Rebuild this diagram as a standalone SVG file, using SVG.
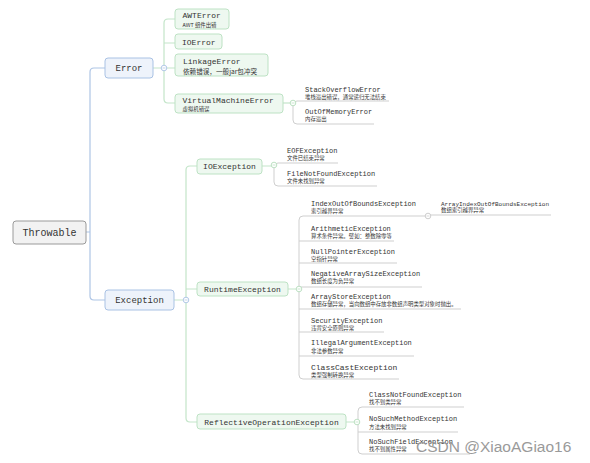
<svg xmlns="http://www.w3.org/2000/svg" width="590" height="463" viewBox="0 0 590 463">
<style>
.bl{fill:none;stroke:#aec5e5;stroke-width:1.2}
.gr{fill:none;stroke:#c3e5c9;stroke-width:1.2}
.ul{fill:none;stroke:#cfcfcf;stroke-width:1}
.root{fill:#f2f2f2;stroke:#9a9a9a;stroke-width:1}
.bn{fill:#eef3fb;stroke:#a9c2e4;stroke-width:1}
.gn{fill:#eef8f0;stroke:#bde2c4;stroke-width:1}
.t{font-family:"Liberation Mono","DejaVu Sans Mono",monospace;fill:#333}
.s{font-family:"Noto Sans CJK SC","Noto Sans",sans-serif;fill:#333;font-size:5.4px}
.c{fill:#fff;stroke-width:0.9}
.wm{font-family:"Liberation Sans",Arial,sans-serif;font-size:15.5px;fill:#9a9a9a}
</style>
<rect width="590" height="463" fill="#fff"/>
<g id="connectors">
  <path class="bl" d="M86,232 H90 M105,68 H94 Q90,68 90,72 V296 Q90,300 94,300 H105"/>
  <path class="gr" d="M153,68 H164 M175,19 H168 Q164,19 164,23 V99 Q164,103 168,103 H175 M164,43 H175 M164,68 H175"/>
  <path class="gr" d="M283,103 H293"/>
  <path class="ul" d="M389,101 H297 Q293,101 293,105 V120 Q293,124 297,124 H374"/>
  <path class="gr" d="M174,300 H186 M197,166 H190 Q186,166 186,170 V418 Q186,422 190,422 H197 M186,289 H197"/>
  <path class="gr" d="M262,166 H274 M288,289 H299 M346,422 H357"/>
  <path class="ul" d="M338,163 H278 Q274,163 274,167 V182 Q274,186 278,186 H377"/>
  <path class="ul" d="M428,216 H303 Q299,216 299,220 V375 Q299,379 303,379 H399 M299,241 H394 M299,263 H397 M299,287 H422 M299,309 H461 M299,332 H384 M299,356 H414 M428,215 H551"/>
  <path class="ul" d="M464,407 H362 Q358,407 358,411 V450 Q358,454 362,454 H470 M358,432 H458"/>
  <g>
    <circle class="c" cx="164" cy="68" r="2.8" stroke="#a9c2e4"/><path d="M162.5,68 H165.5" stroke="#a9c2e4" stroke-width="0.7"/>
    <circle class="c" cx="186" cy="300" r="2.8" stroke="#a9c2e4"/><path d="M184.5,300 H187.5" stroke="#a9c2e4" stroke-width="0.7"/>
    <circle class="c" cx="293" cy="103" r="2.8" stroke="#b5dcbc"/><path d="M291.5,103 H294.5" stroke="#b5dcbc" stroke-width="0.7"/>
    <circle class="c" cx="274" cy="165" r="2.8" stroke="#b5dcbc"/><path d="M272.5,165 H275.5" stroke="#b5dcbc" stroke-width="0.7"/>
    <circle class="c" cx="299" cy="289" r="2.8" stroke="#b5dcbc"/><path d="M297.5,289 H300.5" stroke="#b5dcbc" stroke-width="0.7"/>
    <circle class="c" cx="357" cy="422" r="2.8" stroke="#b5dcbc"/><path d="M355.5,422 H358.5" stroke="#b5dcbc" stroke-width="0.7"/>
    <circle class="c" cx="428" cy="216" r="2.8" stroke="#c8c8c8"/><path d="M426.5,216 H429.5" stroke="#c8c8c8" stroke-width="0.7"/>
  </g>
</g>
<g id="throwable"><rect class="root" x="13" y="221" width="73" height="23" rx="3"/><text class="t" x="49.5" y="236" font-size="10" text-anchor="middle">Throwable</text></g>
<g id="error"><rect class="bn" x="105" y="58" width="48" height="20" rx="3"/><text class="t" x="129" y="71" font-size="9" text-anchor="middle">Error</text></g>
<g id="exception"><rect class="bn" x="105" y="290" width="69" height="20" rx="3"/><text class="t" x="139.5" y="303" font-size="9" text-anchor="middle">Exception</text></g>
<g id="awterror"><rect class="gn" x="175" y="9" width="54" height="20" rx="3"/><text class="t" x="182.5" y="18" font-size="8">AWTError</text><text class="s" x="182.5" y="26.6">AWT 组件出错</text></g>
<g id="ioerror"><rect class="gn" x="175" y="34" width="47" height="15" rx="3"/><text class="t" x="182" y="44.5" font-size="8">IOError</text></g>
<g id="linkageerror"><rect class="gn" x="175" y="54" width="93" height="22" rx="3"/><text class="t" x="183" y="63.5" font-size="8">LinkageError</text><text class="s" x="183" y="73.5" style="font-size:6.6px">依赖错误，一般jar包冲突</text></g>
<g id="vmerror"><rect class="gn" x="175" y="94" width="108" height="19" rx="3"/><text class="t" x="182.5" y="102.5" font-size="8">VirtualMachineError</text><text class="s" x="182.5" y="110.5">虚拟机错误</text></g>
<g id="stackoverflow"><text class="t" x="305" y="92" font-size="7">StackOverflowError</text><text class="s" x="305" y="99.2">堆栈溢出错误，通常递归无法结束</text></g>
<g id="outofmemory"><text class="t" x="305" y="114" font-size="7">OutOfMemoryError</text><text class="s" x="305" y="121.2">内存溢出</text></g>
<g id="ioexception"><rect class="gn" x="197" y="159" width="65" height="15" rx="3"/><text class="t" x="229.5" y="169.3" font-size="8" text-anchor="middle">IOException</text></g>
<g id="eof"><text class="t" x="287" y="153" font-size="7">EOFException</text><text class="s" x="287" y="160.2">文件已结束异常</text></g>
<g id="filenotfound"><text class="t" x="287" y="176" font-size="7">FileNotFoundException</text><text class="s" x="287" y="183.4">文件未找到异常</text></g>
<g id="runtime"><rect class="gn" x="197" y="282" width="91" height="14" rx="3"/><text class="t" x="242.5" y="291.8" font-size="8" text-anchor="middle">RuntimeException</text></g>
<g id="indexoob"><text class="t" x="311" y="206" font-size="7">IndexOutOfBoundsException</text><text class="s" x="311" y="213.3">索引越界异常</text></g>
<g id="arrayindexoob"><text class="t" x="441" y="205.5" font-size="6">ArrayIndexOutOfBoundsException</text><text class="s" x="441" y="212.4">数组索引越界异常</text></g>
<g id="arithmetic"><text class="t" x="311" y="231" font-size="7">ArithmeticException</text><text class="s" x="311" y="238.3">算术条件异常。譬如：整数除零等</text></g>
<g id="nullpointer"><text class="t" x="311" y="254" font-size="7">NullPointerException</text><text class="s" x="311" y="261.2">空指针异常</text></g>
<g id="negativesize"><text class="t" x="311" y="276" font-size="7">NegativeArraySizeException</text><text class="s" x="311" y="283.3">数组长度为负异常</text></g>
<g id="arraystore"><text class="t" x="311" y="299" font-size="7">ArrayStoreException</text><text class="s" x="311" y="306.3">数组存储异常，当向数组中存放非数组声明类型对象时抛出。</text></g>
<g id="security"><text class="t" x="311" y="322.8" font-size="7">SecurityException</text><text class="s" x="311" y="330">违背安全原则异常</text></g>
<g id="illegalargument"><text class="t" x="311" y="345.3" font-size="7">IllegalArgumentException</text><text class="s" x="311" y="352.8">非法参数异常</text></g>
<g id="classcast"><text class="t" x="311" y="369.5" font-size="8">ClassCastException</text><text class="s" x="311" y="376.6">类型强制转换异常</text></g>
<g id="reflective"><rect class="gn" x="197" y="414" width="149" height="15" rx="3"/><text class="t" x="271.5" y="424.5" font-size="8" text-anchor="middle">ReflectiveOperationException</text></g>
<g id="classnotfound"><text class="t" x="369" y="397" font-size="7">ClassNotFoundException</text><text class="s" x="369" y="404.4">找不到类异常</text></g>
<g id="nosuchmethod"><text class="t" x="369" y="421" font-size="7">NoSuchMethodException</text><text class="s" x="369" y="428.8">方法未找到异常</text></g>
<g id="nosuchfield"><text class="t" x="369" y="444" font-size="7">NoSuchFieldException</text><text class="s" x="369" y="451.3">找不到属性异常</text></g>
<text class="wm" x="416" y="452">CSDN @XiaoAGiao16</text>
</svg>
